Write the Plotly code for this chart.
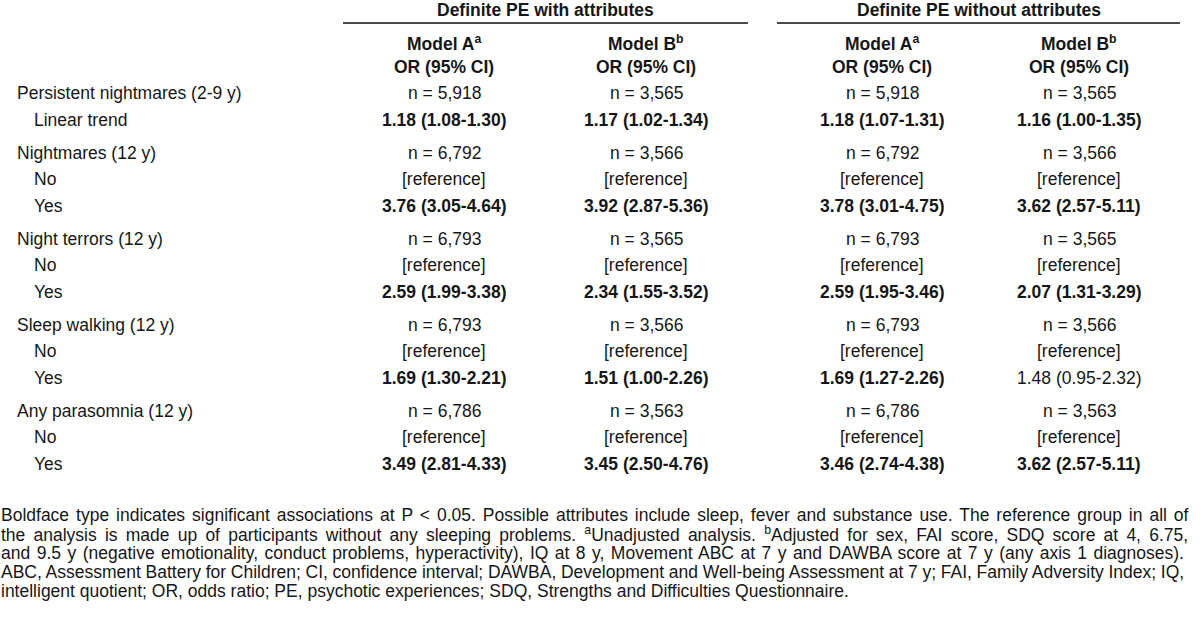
import re
import plotly.graph_objects as go

# Table content
span_titles = ["Definite PE with attributes", "Definite PE without attributes"]
model_names = ["Model A<sup>a</sup>", "Model B<sup>b</sup>", "Model A<sup>a</sup>", "Model B<sup>b</sup>"]
stat_label = "OR (95% CI)"

group_labels = ["Persistent nightmares (2-9 y)", "Nightmares (12 y)", "Night terrors (12 y)",
                "Sleep walking (12 y)", "Any parasomnia (12 y)"]
sub_labels = [["Linear trend"], ["No", "Yes"], ["No", "Yes"], ["No", "Yes"], ["No", "Yes"]]

n_with_a = [5918, 6792, 6793, 6793, 6786]
n_with_b = [3565, 3566, 3565, 3566, 3563]
n_without_a = [5918, 6792, 6793, 6793, 6786]
n_without_b = [3565, 3566, 3565, 3566, 3563]

or_with_a = [1.18, 3.76, 2.59, 1.69, 3.49]
lo_with_a = [1.08, 3.05, 1.99, 1.30, 2.81]
hi_with_a = [1.30, 4.64, 3.38, 2.21, 4.33]

or_with_b = [1.17, 3.92, 2.34, 1.51, 3.45]
lo_with_b = [1.02, 2.87, 1.55, 1.00, 2.50]
hi_with_b = [1.34, 5.36, 3.52, 2.26, 4.76]

or_without_a = [1.18, 3.78, 2.59, 1.69, 3.46]
lo_without_a = [1.07, 3.01, 1.95, 1.27, 2.74]
hi_without_a = [1.31, 4.75, 3.46, 2.26, 4.38]

or_without_b = [1.16, 3.62, 2.07, 1.48, 3.62]
lo_without_b = [1.00, 2.57, 1.31, 0.95, 2.57]
hi_without_b = [1.35, 5.11, 3.29, 2.32, 5.11]

footnote_lines = [
    "Boldface type indicates significant associations at P &lt; 0.05. Possible attributes include sleep, fever and substance use. The reference group in all of",
    "the analysis is made up of participants without any sleeping problems. <sup>a</sup>Unadjusted analysis. <sup>b</sup>Adjusted for sex, FAI score, SDQ score at 4, 6.75,",
    "and 9.5 y (negative emotionality, conduct problems, hyperactivity), IQ at 8 y, Movement ABC at 7 y and DAWBA score at 7 y (any axis 1 diagnoses).",
    "ABC, Assessment Battery for Children; CI, confidence interval; DAWBA, Development and Well-being Assessment at 7 y; FAI, Family Adversity Index; IQ,",
    "intelligent quotient; OR, odds ratio; PE, psychotic experiences; SDQ, Strengths and Difficulties Questionnaire.",
]

# Layout (pixels)
W, H = 1200, 637
FONT = "Liberation Sans, Arial, sans-serif"
FS = 17.5
INK = "#161616"
COL_X = [444, 646, 882, 1079]
SPAN_X = [(343, 748), (777, 1180)]
LABEL_X, SUB_X = 16, 33
Y_SPAN, Y_RULE, Y_MODEL, Y_STAT = 10, 23, 43, 67
Y_FIRST, ROW_STEP, GROUP_STEP = 93, 26.5, 33
FOOT_Y, FOOT_STEP, FOOT_L, FOOT_R = 515, 19, 0, 1188

# Arial / Liberation Sans advance widths (per 1000 em), used to justify the footnote
ARIAL = dict(zip(" !\"#$%&'()*+,-./0123456789:;<=>?",
                 [278, 278, 355, 556, 556, 889, 667, 191, 333, 333, 389, 584, 278, 333, 278, 278]
                 + [556] * 10 + [278, 278, 584, 584, 584, 556]))
ARIAL.update(zip("ABCDEFGHIJKLMNOPQRSTUVWXYZ",
                 [667, 667, 722, 722, 667, 611, 778, 722, 278, 500, 667, 556, 833,
                  722, 778, 667, 778, 722, 667, 611, 722, 667, 944, 667, 667, 611]))
ARIAL.update(zip("abcdefghijklmnopqrstuvwxyz",
                 [556, 556, 500, 556, 556, 278, 556, 556, 222, 222, 500, 222, 833,
                  556, 556, 556, 556, 333, 500, 278, 556, 500, 722, 500, 500, 500]))


def text_width(s, size):
    total = 0
    for part in re.split(r"(<sup>.*?</sup>)", s):
        scale = 0.7 if part.startswith("<sup>") else 1.0
        plain = re.sub(r"<.*?>", "", part).replace("&lt;", "<")
        total += sum(ARIAL.get(c, 556) for c in plain) * size * scale / 1000
    return total


def fmt_or(v, lo, hi):
    s = f"{v:.2f} ({lo:.2f}-{hi:.2f})"
    return f"<b>{s}</b>" if lo >= 1.0 else s


columns = [
    (n_with_a, or_with_a, lo_with_a, hi_with_a),
    (n_with_b, or_with_b, lo_with_b, hi_with_b),
    (n_without_a, or_without_a, lo_without_a, hi_without_a),
    (n_without_b, or_without_b, lo_without_b, hi_without_b),
]

fig = go.Figure()
ann = []


def add_text(x, y, text, anchor="center", size=FS):
    ann.append(dict(x=x, y=y, xref="x", yref="y", text=text, showarrow=False,
                    xanchor=anchor, yanchor="middle", borderpad=0,
                    font=dict(family=FONT, size=size, color=INK)))


# spanner headings and rules
for (x0, x1), title in zip(SPAN_X, span_titles):
    add_text((x0 + x1) / 2, Y_SPAN, f"<b>{title}</b>")
    fig.add_shape(type="line", x0=x0, x1=x1, y0=Y_RULE, y1=Y_RULE, xref="x", yref="y",
                  line=dict(color="#4a4a4a", width=2))

for cx, name in zip(COL_X, model_names):
    add_text(cx, Y_MODEL, f"<b>{name}</b>")
    add_text(cx, Y_STAT, f"<b>{stat_label}</b>")

# body rows
y = Y_FIRST
for g, label in enumerate(group_labels):
    if g > 0:
        y += GROUP_STEP
    add_text(LABEL_X, y, label, anchor="left")
    for cx, (ns, ors, los, his) in zip(COL_X, columns):
        add_text(cx, y, f"n = {ns[g]:,}")
    for sub in sub_labels[g]:
        y += ROW_STEP
        add_text(SUB_X, y, sub, anchor="left")
        for cx, (ns, ors, los, his) in zip(COL_X, columns):
            cell = "[reference]" if sub == "No" else fmt_or(ors[g], los[g], his[g])
            add_text(cx, y, cell)

# footnote, justified except the last line
for i, line in enumerate(footnote_lines):
    text = line
    if i < len(footnote_lines) - 1:
        gaps = line.count(" ")
        ws = (FOOT_R - FOOT_L - text_width(line, FS)) / gaps
        text = f"<span style=\"word-spacing:{ws:.2f}px\">{line}</span>"
    add_text(FOOT_L, FOOT_Y + i * FOOT_STEP, text, anchor="left")

fig.update_layout(
    annotations=ann,
    width=W, height=H,
    margin=dict(l=0, r=0, t=0, b=0),
    paper_bgcolor="white", plot_bgcolor="white",
    showlegend=False,
    xaxis=dict(range=[0, W], visible=False, fixedrange=True),
    yaxis=dict(range=[H, 0], visible=False, fixedrange=True),
)

# drop the default page margin so the figure sits at the window's top-left corner
fig.write_html("out.html", config={"displayModeBar": False},
               post_script="document.body.style.margin='0';document.body.style.overflow='hidden';")
